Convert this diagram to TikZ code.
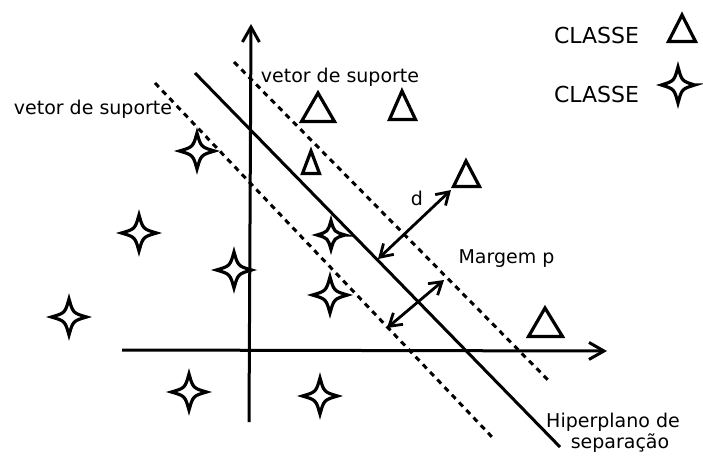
\documentclass[tikz,border=0pt]{standalone}
\usepackage{fontspec}
\setmainfont{DejaVu Sans}
\usetikzlibrary{arrows.meta}
\tikzset{
  shp/.style={line width=3.2pt, line join=miter, miter limit=10},
  axisline/.style={line width=3pt, -{Straight Barb[length=15pt,width=17pt]}},
  hyper/.style={line width=3pt},
  margin/.style={line width=3pt, dash pattern=on 5.5pt off 5pt},
  dimarrow/.style={line width=2.8pt, {Straight Barb[length=12pt,width=15pt]}-{Straight Barb[length=12pt,width=15pt]}},
  lbl/.style={font=\fontsize{19}{22}\selectfont, inner sep=0pt, anchor=base},
  leg/.style={font=\fontsize{22}{26}\selectfont, inner sep=0pt, anchor=base},
  starp/.pic={\draw[shp] (17.5,0) .. controls (4,4) .. (0,18) .. controls (-4,4) .. (-17.5,0) .. controls (-4,-4) .. (0,-18) .. controls (4,-4) .. cycle;}
}
\begin{document}
\begin{tikzpicture}[x=1pt,y=-1pt]
\useasboundingbox (0,0) rectangle (703,455);
% axes
\coordinate (xl) at (122,350);
\coordinate (xr) at (607,351);
\coordinate (yb) at (249,422);
\coordinate (yt) at (251,24);
\draw[axisline] (xl) -- (xr);
\draw[axisline] (yb) -- (yt);
% hyperplane and margins
\coordinate (h1) at (195,73);
\coordinate (h2) at (560,447);
\coordinate (u1) at (234,62);
\coordinate (u2) at (550,382);
\coordinate (l1) at (155,83);
\coordinate (l2) at (492,437);
\draw[hyper] (h1) -- (h2);
\draw[margin] (u1) -- (u2);
\draw[margin] (l1) -- (l2);
% distance arrows
\coordinate (d1) at (378,259);
\coordinate (d2) at (451,190);
\coordinate (m1) at (387,328);
\coordinate (m2) at (444,280);
\draw[dimarrow] (d1) -- (d2);
\draw[dimarrow] (m1) -- (m2);
% triangles
\draw[shp] (301.5,121.5) -- (318,93) -- (334.5,121.5) -- cycle;
\draw[shp] (389.5,119.5) -- (402,91) -- (415.5,119.5) -- cycle;
\draw[shp] (302.5,173.5) -- (311,151) -- (319.5,173.5) -- cycle;
\draw[shp] (453.5,186.5) -- (466,161) -- (479.5,186.5) -- cycle;
\draw[shp] (528.5,336.5) -- (545,308) -- (562.5,336.5) -- cycle;
\draw[shp] (668.5,41.5) -- (682,15) -- (695.5,41.5) -- cycle;
% stars
\pic (s1) at (197,151) {starp};
\pic (s2) at (139,233) {starp};
\pic (s3) at (234,270) {starp};
\pic[scale=0.8] (s4) at (331,235) {starp};
\pic (s5) at (330,295) {starp};
\pic (s6) at (69,317) {starp};
\pic (s7) at (189,392) {starp};
\pic (s8) at (320,396) {starp};
\pic[xscale=0.95] (s9) at (678,85) {starp};
% labels
\node[lbl] (vs1) at (93,114.5) {vetor de suporte};
\node[lbl] (vs2) at (340,82) {vetor de suporte};
\node[lbl] (dl) at (417,205) {d};
\node[lbl] (mp) at (506.5,263) {Margem p};
\node[lbl] (hp1) at (613,427) {Hiperplano de};
\node[lbl] (hp2) at (620,448) {separação};
\node[leg] (c1) at (596.5,43) {CLASSE};
\node[leg] (c2) at (596.5,102) {CLASSE};
\end{tikzpicture}
\end{document}
